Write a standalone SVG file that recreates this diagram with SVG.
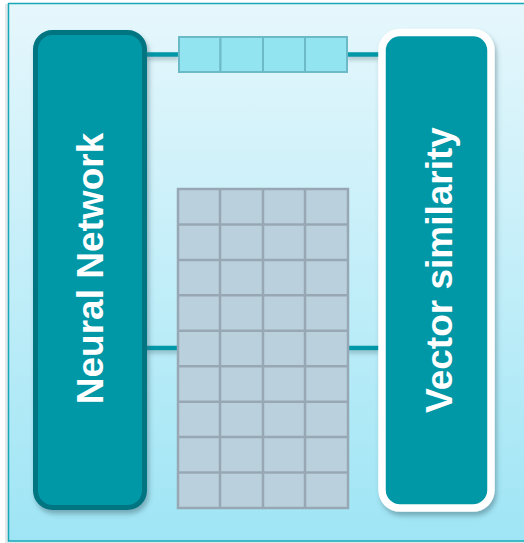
<svg xmlns="http://www.w3.org/2000/svg" width="524" height="543" viewBox="0 0 524 543">
  <defs>
    <linearGradient id="bg" x1="0" y1="0" x2="0" y2="1">
      <stop offset="0" stop-color="#e6f7fc"/>
      <stop offset="1" stop-color="#9fe5f5"/>
    </linearGradient>
    <filter id="shadow" x="-20%" y="-20%" width="140%" height="140%">
      <feDropShadow dx="2" dy="4" stdDeviation="2.5" flood-color="#3a6470" flood-opacity="0.45"/>
    </filter>
    <filter id="lineShadow" x="-10%" y="-100%" width="120%" height="400%">
      <feDropShadow dx="0" dy="3" stdDeviation="2" flood-color="#4a6a74" flood-opacity="0.4"/>
    </filter>
  </defs>
  <style>
    .conn { stroke: #0097a7; stroke-width: 4.5; fill: none; }
    .vcell { fill: #93e4f1; stroke: #6cb9c8; stroke-width: 2; }
    .mcell { fill: #bad1dd; stroke: #97a8b4; stroke-width: 2.5; }
    .label { font-family: "Liberation Sans", Arial, sans-serif; font-weight: bold; font-size: 37px; fill: #ffffff; text-anchor: middle; }
  </style>

  <!-- frame -->
  <rect x="5" y="4" width="530" height="540" fill="#cfd8db" opacity="0.6"/>
  <rect x="8.5" y="3.5" width="530" height="537.5" fill="url(#bg)" stroke="#16a8b8" stroke-width="1.5"/>

  <!-- connectors -->
  <g id="connectors" filter="url(#lineShadow)">
    <line class="conn" x1="147" y1="54.5" x2="179" y2="54.5"/>
    <line class="conn" x1="347" y1="54.5" x2="379" y2="54.5"/>
    <line class="conn" x1="147" y1="348" x2="179" y2="348"/>
    <line class="conn" x1="347" y1="348" x2="379" y2="348"/>
  </g>

  <!-- query vector -->
  <g id="query-vector">
    <rect class="vcell" x="179" y="37" width="41.5" height="35"/>
    <rect class="vcell" x="220.5" y="37" width="42.5" height="35"/>
    <rect class="vcell" x="263" y="37" width="42" height="35"/>
    <rect class="vcell" x="305" y="37" width="42" height="35"/>
  </g>

  <!-- embedding matrix: 4 columns x 9 rows -->
  <g id="embedding-matrix">
    <rect x="178" y="189" width="170" height="319" fill="#bad1dd" stroke="#97a8b4" stroke-width="2.5"/>
    <g stroke="#97a8b4" stroke-width="2.5">
      <line x1="220" y1="189" x2="220" y2="508"/>
      <line x1="263" y1="189" x2="263" y2="508"/>
      <line x1="305" y1="189" x2="305" y2="508"/>
      <line x1="178" y1="224.4" x2="348" y2="224.4"/>
      <line x1="178" y1="259.9" x2="348" y2="259.9"/>
      <line x1="178" y1="295.3" x2="348" y2="295.3"/>
      <line x1="178" y1="330.8" x2="348" y2="330.8"/>
      <line x1="178" y1="366.2" x2="348" y2="366.2"/>
      <line x1="178" y1="401.7" x2="348" y2="401.7"/>
      <line x1="178" y1="437.1" x2="348" y2="437.1"/>
      <line x1="178" y1="472.6" x2="348" y2="472.6"/>
    </g>
  </g>

  <!-- neural network node -->
  <g id="neural-network">
    <rect x="35.5" y="32.5" width="109" height="475" rx="17" fill="#0097a7" stroke="#007482" stroke-width="5" filter="url(#shadow)"/>
    <text class="label" transform="translate(103,268.5) rotate(-90)">Neural Network</text>
  </g>

  <!-- vector similarity node -->
  <g id="vector-similarity">
    <rect x="382" y="32.5" width="109" height="475.5" rx="18" fill="#0097a7" stroke="#ffffff" stroke-width="7.5" filter="url(#shadow)"/>
    <text class="label" transform="translate(452,270) rotate(-90)">Vector similarity</text>
  </g>
</svg>
